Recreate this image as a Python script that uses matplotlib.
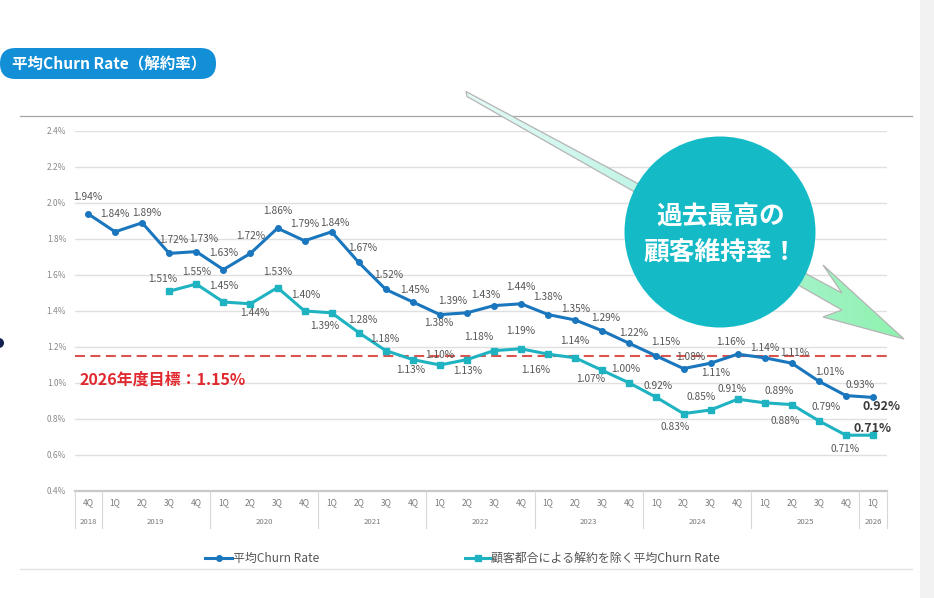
import matplotlib
matplotlib.use('Agg')
import matplotlib.pyplot as plt
import numpy as np
from matplotlib.patches import Polygon, Circle, FancyBboxPatch, Rectangle
from matplotlib.colors import LinearSegmentedColormap
from matplotlib.transforms import blended_transform_factory

plt.rcParams['font.family'] = ['Noto Sans CJK JP', 'DejaVu Sans']

# ---------------- data ----------------
years = ['2018', '2019', '2020', '2021', '2022', '2023', '2024', '2025', '2026']
quarters = [['4Q'],
            ['1Q', '2Q', '3Q', '4Q'],
            ['1Q', '2Q', '3Q', '4Q'],
            ['1Q', '2Q', '3Q', '4Q'],
            ['1Q', '2Q', '3Q', '4Q'],
            ['1Q', '2Q', '3Q', '4Q'],
            ['1Q', '2Q', '3Q', '4Q'],
            ['1Q', '2Q', '3Q', '4Q'],
            ['1Q']]

churn = [1.94, 1.84, 1.89, 1.72, 1.73, 1.63, 1.72, 1.86, 1.79, 1.84,
         1.67, 1.52, 1.45, 1.38, 1.39, 1.43, 1.44, 1.38, 1.35, 1.29,
         1.22, 1.15, 1.08, 1.11, 1.16, 1.14, 1.11, 1.01, 0.93, 0.92]

churn_excl = [np.nan, np.nan, np.nan,
              1.51, 1.55, 1.45, 1.44, 1.53, 1.40, 1.39,
              1.28, 1.18, 1.13, 1.10, 1.13, 1.18, 1.19, 1.16, 1.14, 1.07,
              1.00, 0.92, 0.83, 0.85, 0.91, 0.89, 0.88, 0.79, 0.71, 0.71]

target = 1.15

series_names = ['平均Churn Rate', '顧客都合による解約を除く平均Churn Rate']
title_text = '平均Churn Rate（解約率）'
target_text = '2026年度目標：1.15%'
bubble_lines = ['過去最高の', '顧客維持率！']

# label offsets in pixels (dx right, dy down)
blue_off = [(0, -17), (0, -18), (5, -10), (4, -13), (7, -13), (0, -17), (0, -17),
            (0, -17), (0, -17), (3, -9), (4, -14), (3, -14), (2, -12), (-1, 8),
            (-14, -12), (-8, -11), (0, -17), (0, -18), (0, -11), (3, -13),
            (4, -10), (9, -14), (7, -12), (5, 10), (-7, -12), (0, -10),
            (3, -10), (11, -9), (14, -11), (9, 9)]
teal_off = [None, None, None,
            (-7, -12), (0, -12), (0, -16), (4, 9), (0, -16), (1, -16), (-7, 13),
            (4, -13), (-1, -12), (-2, 10), (0, -10), (1, 11), (-15, -14),
            (0, -18), (-12, 16), (0, -17), (-12, 9), (-4, -14), (2, -11),
            (-8, 13), (-9, -13), (-6, -10), (14, -12), (-7, 16), (7, -14),
            (-1, 14), (0, -7)]

BLUE = '#1a76bd'
TEAL = '#1fb3c2'
RED = '#d9534f'
LBL = '#555555'

W, H = 934, 598
fig = plt.figure(figsize=(W / 100, H / 100), dpi=100)
fig.patch.set_facecolor('white')

ax = fig.add_axes([74.5 / W, 1 - 491 / H, 812 / W, 360 / H])
n = len(churn)
x = np.arange(n)
ax.set_xlim(-0.5, n - 0.5)
ax.set_ylim(0.4, 2.4)
ax.set_yticks(np.round(np.arange(0.4, 2.41, 0.2), 1))
ax.yaxis.set_major_formatter(lambda v, p: f'{v:.1f}%')
ax.tick_params(axis='y', length=0, pad=6, labelsize=6, labelcolor='#8a8a8a')
ax.set_xticks([])
for s in ax.spines.values():
    s.set_visible(False)
ax.grid(axis='y', color='#e0e0e0', lw=1)
ax.set_axisbelow(True)
ax.axhline(0.4, color='#c8c8c8', lw=1.6, clip_on=False, zorder=1)

ax.axhline(target, color=RED, lw=1.5, ls=(0, (4.8, 2.6)), zorder=2)
ax.plot(x, churn_excl, color=TEAL, lw=2.2, marker='s', ms=5, zorder=3)
ax.plot(x, churn, color=BLUE, lw=2.2, marker='o', ms=4, zorder=4)

for i, v in enumerate(churn):
    dx, dy = blue_off[i]
    last = i == n - 1
    ax.annotate(f'{v:.2f}%', (i, v), xytext=(dx, -dy), textcoords='offset pixels',
                ha='center', va='center',
                fontsize=9 if last else 7.3,
                fontweight='bold' if last else 'normal',
                color='#3a3a3a' if last else LBL, zorder=6)
for i, v in enumerate(churn_excl):
    if np.isnan(v):
        continue
    dx, dy = teal_off[i]
    last = i == n - 1
    ax.annotate(f'{v:.2f}%', (i, v), xytext=(dx, -dy), textcoords='offset pixels',
                ha='center', va='center',
                fontsize=9 if last else 7.3,
                fontweight='bold' if last else 'normal',
                color='#3a3a3a' if last else LBL, zorder=6)

ax.text(-0.3, 1.017, target_text, fontsize=11.5, fontweight='bold', color='#e02a2f',
        ha='left', va='center', zorder=6)

# category axis (quarter / year)
trans = blended_transform_factory(ax.transData, ax.transAxes)
idx = 0
bounds = [-0.5]
for yr, qs in zip(years, quarters):
    for q in qs:
        ax.text(idx, -12 / 360, q, transform=trans, ha='center', va='center',
                fontsize=6, color='#7a7a7a')
        idx += 1
    ax.text(idx - len(qs) / 2 - 0.5, -31 / 360, yr, transform=trans, ha='center',
            va='center', fontsize=5.6, color='#7a7a7a')
    bounds.append(idx - 0.5)
for b in bounds:
    ax.plot([b, b], [0, -37 / 360], transform=trans, color='#d8d8d8', lw=0.8,
            clip_on=False)

# ---------------- overlay decorations (pixel coords) ----------------
ov = fig.add_axes([0, 0, 1, 1], zorder=10)
ov.set_xlim(0, W)
ov.set_ylim(H, 0)
ov.axis('off')

ov.add_patch(Rectangle((920, 0), 14, H, fc='#f2f2f2', ec='none', zorder=1))
ov.plot([20, 912], [116, 116], color='#a6a6a6', lw=0.9, zorder=1)
ov.plot([20, 912], [569, 569], color='#e3e3e3', lw=1.0, zorder=1)
ov.add_patch(Circle((-1, 343), 5, fc='#142050', ec='none', zorder=1))

# title pill
ov.add_patch(FancyBboxPatch((0, 48), 216, 31, boxstyle='round,pad=0,rounding_size=15.5',
                            fc='#128fd6', ec='none', zorder=2))
ov.text(12, 64, title_text, color='white', fontsize=11.2, fontweight='bold',
        ha='left', va='center', zorder=3)

# legend
ov.plot([205, 232], [558, 558], color=BLUE, lw=2.2, zorder=2)
ov.plot([218.5], [558], color=BLUE, marker='o', ms=4, zorder=3)
ov.text(233, 558, series_names[0], fontsize=8.6, color=LBL, ha='left', va='center')
ov.plot([465, 490], [558, 558], color=TEAL, lw=2.2, zorder=2)
ov.plot([477.5], [558], color=TEAL, marker='s', ms=5, zorder=3)
ov.text(491, 558, series_names[1], fontsize=8.6, color=LBL, ha='left', va='center')

# gradient arrow
pts = [(466, 91.5), (842, 293), (823, 265), (904, 339), (823, 317), (842, 310), (467, 96.5)]
arrow = Polygon(pts, closed=True, fc='none', ec='#b4b4b4', lw=0.9, zorder=5)
ov.add_patch(arrow)
cmap = LinearSegmentedColormap.from_list('g', ['#e4faf7', '#b9f3e2', '#8ef2ae'])
grad = np.linspace(0, 1, 256).reshape(1, -1)
im = ov.imshow(grad, extent=[466, 905, 345, 85], cmap=cmap, aspect='auto', zorder=4)
im.set_clip_path(arrow)
ov.set_xlim(0, W)
ov.set_ylim(H, 0)

# bubble
ov.add_patch(Circle((720, 232), 95.5, fc='#15bac7', ec='none', zorder=6))
ov.text(721, 217, bubble_lines[0], color='white', fontsize=18.5, fontweight='bold',
        ha='center', va='center', zorder=7)
ov.text(721, 253, bubble_lines[1], color='white', fontsize=18.5, fontweight='bold',
        ha='center', va='center', zorder=7)

fig.savefig('out.png', dpi=100)
